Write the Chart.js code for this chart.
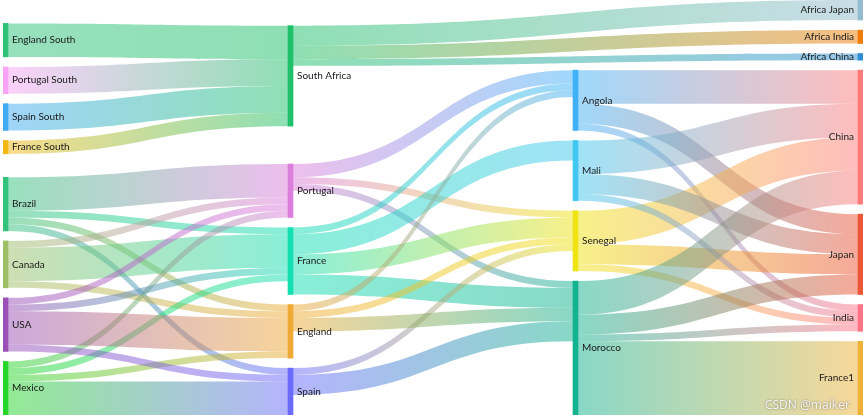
<!DOCTYPE html>
<html>
<head>
<meta charset="utf-8">
<title>Sankey</title>
<script src="https://cdn.jsdelivr.net/npm/chart.js@4/dist/chart.umd.min.js"></script>
<style>
  html, body { margin: 0; padding: 0; background: #fff; }
  #wrap { width: 865px; height: 419px; position: relative; }
</style>
</head>
<body>
<div id="wrap"><canvas id="sankey"></canvas></div>
<script>
// ─── Data ───
const nodeNames = [
  'England South', 'Portugal South', 'Spain South', 'France South',
  'Brazil', 'Canada', 'USA', 'Mexico',
  'South Africa', 'Portugal', 'France', 'England', 'Spain',
  'Angola', 'Mali', 'Senegal', 'Morocco',
  'Africa Japan', 'Africa India', 'Africa China', 'China', 'Japan', 'India', 'France1'
];
const nodeColors = [
  '#2fc37a', '#f9a3f7', '#40abf3', '#f3b812',
  '#33c27c', '#9dbf68', '#9a50b7', '#27d62a',
  '#1fc06a', '#dc7fdc', '#14dfb2', '#efaa35', '#6a6afc',
  '#41b1f7', '#41c7f0', '#f0e314', '#13b290',
  '#93bccf', '#ee7c06', '#2f8fd6', '#ff7c7c', '#ec5535', '#ff7486', '#efb236'
];

const linkSources = [
  'England South', 'Portugal South', 'Spain South', 'France South',
  'South Africa', 'South Africa', 'South Africa',
  'Brazil', 'Brazil', 'Brazil', 'Brazil',
  'Canada', 'Canada', 'Canada',
  'Mexico', 'Mexico', 'Mexico', 'Mexico',
  'USA', 'USA', 'USA', 'USA',
  'Portugal', 'Portugal', 'Portugal',
  'France', 'France', 'France', 'France',
  'Spain', 'Spain',
  'England', 'England', 'England',
  'Angola', 'Angola', 'Angola',
  'Senegal', 'Senegal', 'Senegal',
  'Mali', 'Mali', 'Mali',
  'Morocco', 'Morocco', 'Morocco', 'Morocco'
];
const linkTargets = [
  'South Africa', 'South Africa', 'South Africa', 'South Africa',
  'Africa Japan', 'Africa India', 'Africa China',
  'Portugal', 'France', 'Spain', 'England',
  'Portugal', 'France', 'England',
  'Portugal', 'France', 'Spain', 'England',
  'Portugal', 'France', 'Spain', 'England',
  'Angola', 'Senegal', 'Morocco',
  'Angola', 'Senegal', 'Mali', 'Morocco',
  'Senegal', 'Morocco',
  'Angola', 'Senegal', 'Morocco',
  'China', 'India', 'Japan',
  'China', 'India', 'Japan',
  'China', 'India', 'Japan',
  'China', 'India', 'Japan', 'France1'
];
const linkValues = [
  5, 4, 4, 2,
  3, 2, 1,
  5, 1, 1, 1,
  1, 5, 1,
  1, 1, 5, 1,
  1, 1, 1, 5,
  2, 1, 1,
  1, 3, 3, 3,
  1, 3,
  1, 1, 2,
  5, 1, 3,
  5, 1, 3,
  5, 1, 3,
  5, 1, 3, 11
];

// ─── Layout settings (layout units = px of the plot box) ───
const BOX_W = 860, BOX_H = 415;
const NODE_W = 5, NODE_GAP = 10, ITERATIONS = 32, CURVENESS = 0.5;
const LINK_ALPHA = 0.5;
const LABEL_FONT = '10px Lato';

// ─── Sankey layout (same steps as echarts' sankeyLayout) ───
function buildSankey() {
  const nodes = nodeNames.map((name, i) => ({ name, color: nodeColors[i], inEdges: [], outEdges: [] }));
  const byName = {};
  nodes.forEach(n => { byName[n.name] = n; });
  const edges = linkValues.map((v, i) => {
    const e = { n1: byName[linkSources[i]], n2: byName[linkTargets[i]], value: v };
    e.n1.outEdges.push(e);
    e.n2.inEdges.push(e);
    return e;
  });
  const sum = (arr, f) => arr.reduce((s, a) => s + f(a), 0);
  nodes.forEach(n => {
    n.value = Math.max(sum(n.inEdges, e => e.value), sum(n.outEdges, e => e.value));
  });

  // breadths
  const indeg = nodes.map(n => n.inEdges.length);
  let zero = nodes.filter((n, i) => indeg[i] === 0);
  let next = [];
  let x = 0;
  while (zero.length) {
    zero.forEach(n => {
      n.depth = x;
      n.dx = NODE_W;
      n.outEdges.forEach(e => {
        const k = nodes.indexOf(e.n2);
        if (--indeg[k] === 0 && next.indexOf(e.n2) < 0) next.push(e.n2);
      });
    });
    x++;
    zero = next;
    next = [];
  }
  const maxDepth = x - 1;
  nodes.forEach(n => { if (!n.outEdges.length) n.depth = maxDepth; });
  const kx = (BOX_W - NODE_W) / maxDepth;
  nodes.forEach(n => { n.x = n.depth * kx; });

  // group by column
  const cols = [];
  for (let d = 0; d <= maxDepth; d++) cols.push(nodes.filter(n => n.depth === d));

  // initial depth
  let ky = Infinity;
  cols.forEach(col => {
    const k = (BOX_H - (col.length - 1) * NODE_GAP) / sum(col, n => n.value);
    if (k < ky) ky = k;
  });
  cols.forEach(col => col.forEach((n, i) => { n.y = i; n.dy = n.value * ky; }));
  edges.forEach(e => { e.dy = e.value * ky; });

  const center = n => n.y + n.dy / 2;

  function resolveCollisions() {
    cols.forEach(col => {
      col.sort((a, b) => a.y - b.y);
      let y0 = 0, node;
      for (let i = 0; i < col.length; i++) {
        node = col[i];
        const d = y0 - node.y;
        if (d > 0) node.y += d;
        y0 = node.y + node.dy + NODE_GAP;
      }
      let d = y0 - NODE_GAP - BOX_H;
      if (d > 0) {
        node.y -= d;
        y0 = node.y;
        for (let i = col.length - 2; i >= 0; i--) {
          node = col[i];
          d = node.y + node.dy + NODE_GAP - y0;
          if (d > 0) node.y -= d;
          y0 = node.y;
        }
      }
    });
  }
  function relaxRightToLeft(alpha) {
    cols.slice().reverse().forEach(col => col.forEach(n => {
      if (n.outEdges.length) {
        const y = sum(n.outEdges, e => center(e.n2) * e.value) / sum(n.outEdges, e => e.value);
        n.y += (y - center(n)) * alpha;
      }
    }));
  }
  function relaxLeftToRight(alpha) {
    cols.forEach(col => col.forEach(n => {
      if (n.inEdges.length) {
        const y = sum(n.inEdges, e => center(e.n1) * e.value) / sum(n.inEdges, e => e.value);
        n.y += (y - center(n)) * alpha;
      }
    }));
  }

  resolveCollisions();
  for (let alpha = 1, it = ITERATIONS; it > 0; it--) {
    alpha *= 0.99;
    relaxRightToLeft(alpha);
    resolveCollisions();
    relaxLeftToRight(alpha);
    resolveCollisions();
  }

  // edge offsets
  nodes.forEach(n => {
    n.outEdges.sort((a, b) => a.n2.y - b.n2.y);
    n.inEdges.sort((a, b) => a.n1.y - b.n1.y);
  });
  nodes.forEach(n => {
    let sy = 0, ty = 0;
    n.outEdges.forEach(e => { e.sy = sy; sy += e.dy; });
    n.inEdges.forEach(e => { e.ty = ty; ty += e.dy; });
  });

  return { nodes, edges, maxDepth };
}

const sankey = buildSankey();

// ─── Links under the nodes ───
const linkPlugin = {
  id: 'sankeyLinks',
  beforeDatasetsDraw(chart) {
    const { ctx, scales: { x: xs, y: ys } } = chart;
    ctx.save();
    ctx.globalAlpha = LINK_ALPHA;
    sankey.edges.forEach(e => {
      const x1 = xs.getPixelForValue(e.n1.x + e.n1.dx);
      const x2 = xs.getPixelForValue(e.n2.x);
      const y1 = ys.getPixelForValue(e.n1.y + e.sy);
      const y2 = ys.getPixelForValue(e.n2.y + e.ty);
      const ext = Math.max(1, ys.getPixelForValue(e.dy) - ys.getPixelForValue(0));
      const c1 = x1 * (1 - CURVENESS) + x2 * CURVENESS;
      const c2 = x1 * CURVENESS + x2 * (1 - CURVENESS);
      const grad = ctx.createLinearGradient(x1, 0, x2, 0);
      grad.addColorStop(0, e.n1.color);
      grad.addColorStop(1, e.n2.color);
      ctx.fillStyle = grad;
      ctx.beginPath();
      ctx.moveTo(x1, y1);
      ctx.bezierCurveTo(c1, y1, c2, y2, x2, y2);
      ctx.lineTo(x2, y2 + ext);
      ctx.bezierCurveTo(c2, y2 + ext, c1, y1 + ext, x1, y1 + ext);
      ctx.closePath();
      ctx.fill();
    });
    ctx.restore();
  },
  afterDatasetsDraw(chart) {
    const { ctx, scales: { x: xs, y: ys } } = chart;
    ctx.save();
    ctx.font = LABEL_FONT;
    ctx.fillStyle = '#1a1a1a';
    ctx.textBaseline = 'middle';
    sankey.nodes.forEach(n => {
      const cy = ys.getPixelForValue(n.y + n.dy / 2);
      if (n.depth === sankey.maxDepth) {
        ctx.textAlign = 'right';
        ctx.fillText(n.name, xs.getPixelForValue(n.x) - 4, cy);
      } else {
        ctx.textAlign = 'left';
        ctx.fillText(n.name, xs.getPixelForValue(n.x + n.dx) + 4, cy);
      }
    });
    // watermark
    ctx.font = '12px "Noto Sans"';
    ctx.textAlign = 'right';
    ctx.textBaseline = 'alphabetic';
    ctx.shadowColor = 'rgba(0,0,0,0.55)';
    ctx.shadowBlur = 2;
    ctx.fillStyle = 'rgba(250,250,250,0.95)';
    ctx.fillText('CSDN @maiker', 850, 409);
    ctx.restore();
  }
};

// ─── Nodes as floating bars ───
const nodeBars = sankey.nodes.map(n => ({ x: n.x + n.dx / 2, y: [n.y, n.y + n.dy] }));

new Chart(document.getElementById('sankey'), {
  type: 'bar',
  data: {
    datasets: [{
      data: nodeBars,
      backgroundColor: sankey.nodes.map(n => n.color),
      barThickness: NODE_W,
      borderWidth: 0,
      borderSkipped: false,
      grouped: false
    }]
  },
  options: {
    responsive: true,
    maintainAspectRatio: false,
    animation: false,
    layout: { padding: { left: 3, right: 2, top: 0, bottom: 4 } },
    scales: {
      x: { type: 'linear', min: 0, max: BOX_W, offset: false, display: false },
      y: { type: 'linear', min: 0, max: BOX_H, reverse: true, display: false }
    },
    plugins: {
      legend: { display: false },
      tooltip: { enabled: false }
    }
  },
  plugins: [linkPlugin]
});
</script>
</body>
</html>
